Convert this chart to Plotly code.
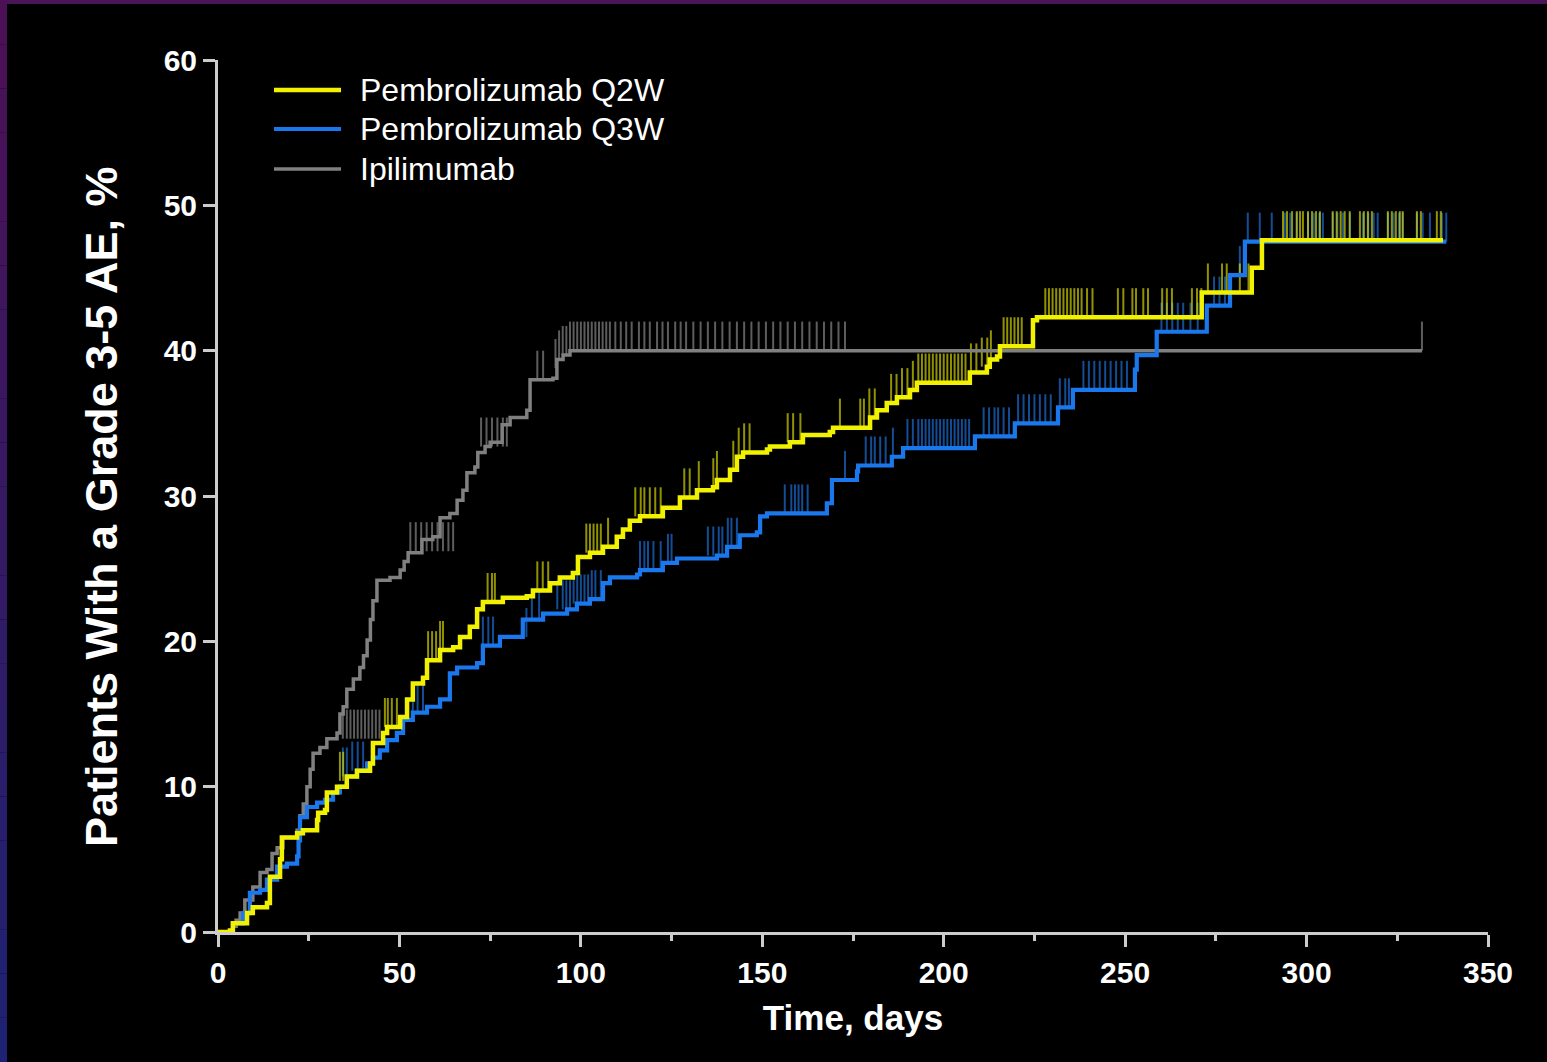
import plotly.graph_objects as go

# ---------------------------------------------------------------
# Cumulative incidence of grade 3-5 adverse events (step curves)
# ---------------------------------------------------------------
series_names = ["Pembrolizumab Q2W", "Pembrolizumab Q3W", "Ipilimumab"]

# Pembrolizumab Q2W: event days and cumulative percentage
q2w_days = [0, 3.3, 4.1, 8.0, 9.6, 13.5, 14.3, 17.1, 17.6, 21.8, 23.4, 27.3, 27.6, 29.5, 30.0,
            32.8, 35.5, 38.3, 41.9, 42.7, 45.5, 46.6, 50.2, 52.1, 53.7, 56.5, 57.6, 61.2, 64.8,
            66.7, 69.4, 71.4, 73.0, 78.5, 85.1, 86.8, 91.5, 94.2, 97.8, 99.2, 102.5, 106.1,
            109.9, 111.6, 113.5, 116.3, 122.6, 127.3, 132.0, 136.4, 137.5, 141.1, 143.0, 144.7,
            151.3, 152.1, 157.6, 161.2, 168.6, 169.5, 179.7, 181.6, 184.3, 187.1, 190.7, 192.6,
            207.2, 211.9, 212.7, 214.7, 215.5, 224.6, 225.7, 271.1, 284.9, 287.7, 337.6]
q2w_pct = [0, 0.1, 0.6, 1.3, 1.7, 2.0, 3.8, 5.0, 6.5, 6.8, 7.0, 7.7, 8.2, 8.4, 9.6,
           10.0, 10.7, 11.1, 11.6, 13.0, 13.7, 14.1, 14.8, 16.0, 17.1, 17.5, 18.7, 19.4, 19.6,
           20.3, 21.0, 22.2, 22.7, 23.0, 23.1, 23.5, 24.0, 24.4, 24.7, 25.8, 26.1, 26.5,
           27.2, 27.7, 28.3, 28.6, 29.2, 29.9, 30.4, 30.6, 31.1, 31.8, 32.7, 33.0,
           33.2, 33.4, 33.7, 34.2, 34.4, 34.7, 35.4, 35.9, 36.4, 36.8, 37.3, 37.8,
           38.5, 38.9, 39.4, 39.6, 40.3, 42.1, 42.3, 44.0, 45.7, 47.6, 47.6]

# Pembrolizumab Q3W
q3w_days = [0, 4.1, 6.9, 8.8, 11.6, 13.5, 16.3, 19.0, 21.8, 22.2, 22.6, 24.5, 27.3, 29.5, 31.7,
            33.6, 35.5, 38.3, 41.1, 42.7, 44.6, 46.6, 49.3, 51.0, 53.7, 57.6, 61.2, 63.9, 65.9,
            71.4, 73.0, 77.7, 84.0, 89.6, 96.2, 98.9, 102.5, 106.1, 108.0, 115.5, 116.3, 122.6,
            126.5, 137.5, 140.3, 143.8, 148.5, 149.4, 151.3, 167.8, 169.2, 176.1, 176.4, 185.7,
            188.8, 208.6, 219.6, 231.5, 235.6, 252.7, 253.2, 258.7, 272.5, 278.9, 283.0, 338.5]
q3w_pct = [0, 0.6, 1.3, 2.7, 2.9, 3.6, 4.5, 4.7, 5.2, 6.3, 7.9, 8.6, 8.9, 9.1, 9.6,
           10.0, 10.7, 11.1, 11.6, 12.0, 12.5, 13.2, 13.7, 14.6, 15.1, 15.5, 16.0, 17.8, 18.2,
           18.5, 19.7, 20.3, 21.5, 21.9, 22.2, 22.6, 22.9, 24.0, 24.4, 24.6, 24.9, 25.4,
           25.7, 25.9, 26.5, 27.3, 27.5, 28.6, 28.8, 29.5, 31.1, 31.7, 32.1, 32.7,
           33.3, 34.1, 35.0, 36.1, 37.3, 38.7, 39.7, 41.3, 43.1, 45.2, 47.5, 47.5]

# Ipilimumab
ipi_days = [0, 4.1, 5.0, 6.1, 7.4, 9.6, 11.6, 13.5, 14.9, 16.3, 17.9, 21.8, 22.6, 23.5, 24.5,
            25.4, 26.2, 28.1, 30.0, 32.8, 33.6, 34.5, 35.5, 37.3, 39.1, 40.1, 41.1, 42.0, 42.7,
            43.8, 47.4, 50.2, 51.3, 52.4, 56.2, 59.2, 61.2, 63.9, 65.9, 67.5, 68.6, 70.8, 71.6,
            73.6, 75.0, 78.3, 80.5, 85.1, 86.0, 92.3, 93.4, 95.1, 97.0, 331.8]
ipi_pct = [0, 0.4, 0.8, 1.3, 2.2, 3.1, 4.1, 4.3, 5.4, 5.8, 6.5, 7.0, 8.0, 8.8, 10.0,
           11.2, 12.3, 12.7, 13.3, 13.7, 15.0, 15.5, 16.7, 17.4, 18.2, 19.0, 20.1, 21.5, 22.8,
           24.2, 24.4, 24.9, 25.5, 26.1, 27.0, 27.2, 28.5, 28.8, 29.7, 30.4, 31.6, 32.0, 33.0,
           33.4, 33.7, 34.9, 35.4, 35.9, 38.0, 38.1, 39.4, 39.7, 40.0, 40.0]

# Censored observations (day, level of curve at censoring)
q2w_cens_days = [33.6, 34.5, 46.0, 46.8, 47.9, 49.3, 57.9, 59.0, 60.1, 61.2, 62.0, 74.3, 75.5, 76.3,
                 88.0, 89.5, 91.0, 101.5, 102.5, 103.5, 104.5, 105.5, 107.5, 115.0, 116.5, 117.5,
                 119.0, 120.5, 122.0, 128.5, 130.0, 132.5, 136.5, 137.5, 142.0, 143.5, 145.0, 146.5,
                 157.0, 158.5, 160.5, 171.4, 177.0, 178.0, 179.5, 181.0, 185.5, 187.0, 188.5, 190.0,
                 191.5, 193.0, 194.0, 195.0, 196.0, 197.0, 198.0, 199.0, 200.0, 201.0, 202.0, 203.0,
                 204.0, 205.0, 206.0, 207.5, 209.0, 210.5, 212.0, 213.0, 216.5, 217.5, 218.5, 219.5,
                 220.5, 221.5, 228.0, 229.0, 230.0, 231.0, 232.0, 233.0, 234.0, 235.0, 236.0, 237.0,
                 238.0, 239.5, 241.0, 248.0, 249.5, 252.0, 253.0, 255.0, 256.3, 260.2, 261.5, 262.9,
                 268.4, 269.8, 271.0, 272.8, 276.7, 278.0, 281.6, 284.0, 293.5, 294.6, 296.0, 297.3,
                 298.2, 299.0, 300.4, 301.5, 302.6, 303.7, 307.2, 308.3, 309.4, 310.5, 311.9, 314.7,
                 315.8, 316.9, 318.0, 322.4, 323.5, 324.6, 325.7, 326.5, 330.4, 331.5, 335.9, 337.0]
q2w_cens_pct = [10.4, 10.4, 14.1, 14.1, 14.1, 14.1, 18.7, 18.7, 18.7, 19.4, 19.4, 22.7, 22.7, 22.7,
                23.5, 23.5, 23.5, 26.1, 26.1, 26.1, 26.1, 26.1, 26.5, 28.6, 28.6, 28.6,
                28.6, 28.6, 28.6, 29.9, 29.9, 30.4, 30.6, 31.1, 31.8, 32.7, 33.0, 33.0,
                33.7, 33.7, 33.7, 34.7, 34.7, 34.7, 35.4, 35.4, 36.4, 36.4, 36.8, 36.8,
                37.3, 37.8, 37.8, 37.8, 37.8, 37.8, 37.8, 37.8, 37.8, 37.8, 37.8, 37.8,
                37.8, 37.8, 37.8, 38.5, 38.5, 38.9, 38.9, 39.4, 40.3, 40.3, 40.3, 40.3,
                40.3, 40.3, 42.3, 42.3, 42.3, 42.3, 42.3, 42.3, 42.3, 42.3, 42.3, 42.3,
                42.3, 42.3, 42.3, 42.3, 42.3, 42.3, 42.3, 42.3, 42.3, 42.3, 42.3, 42.3,
                42.3, 42.3, 42.3, 44.0, 44.0, 44.0, 44.0, 44.0, 47.6, 47.6, 47.6, 47.6,
                47.6, 47.6, 47.6, 47.6, 47.6, 47.6, 47.6, 47.6, 47.6, 47.6, 47.6, 47.6,
                47.6, 47.6, 47.6, 47.6, 47.6, 47.6, 47.6, 47.6, 47.6, 47.6, 47.6, 47.6]

q3w_cens_days = [34.4, 35.5, 37.0, 38.5, 40.0, 53.7, 55.0, 56.5, 73.0, 74.5, 75.8, 85.0, 86.5, 88.5,
                 93.5, 95.0, 96.0, 97.0, 98.0, 99.0, 100.0, 101.0, 102.0, 103.0, 104.0, 105.5,
                 116.3, 117.5, 118.5, 120.0, 122.0, 124.0, 125.0, 135.0, 136.5, 138.0, 139.0, 140.5,
                 141.5, 143.0, 156.2, 158.0, 159.0, 160.0, 161.0, 162.5, 172.8, 178.5, 180.0, 181.0,
                 182.5, 184.0, 186.0, 190.0, 191.5, 193.0, 194.0, 195.0, 196.0, 197.0, 198.0, 199.0,
                 200.0, 201.0, 202.0, 203.0, 204.0, 205.0, 206.0, 207.0, 211.0, 212.5, 214.0, 215.0,
                 216.5, 218.0, 220.5, 222.0, 223.5, 225.0, 226.5, 228.0, 229.5, 232.0, 233.5, 234.5,
                 238.5, 240.0, 241.5, 243.0, 244.5, 246.0, 247.5, 249.0, 250.5, 260.0, 261.5, 263.0,
                 264.5, 266.0, 268.0, 270.0, 274.5, 276.0, 277.5, 281.6, 283.8, 287.1, 290.4, 294.0,
                 295.5, 297.3, 300.4, 302.0, 303.5, 304.5, 307.2, 308.5, 310.0, 311.9, 315.5, 317.0,
                 318.5, 319.6, 322.4, 324.0, 325.5, 326.5, 330.4, 332.0, 334.0, 337.3, 338.5]
q3w_cens_pct = [10.7, 10.7, 11.1, 11.1, 11.1, 15.1, 15.1, 15.1, 19.7, 19.7, 19.7, 20.3, 21.5, 21.5,
                22.2, 22.2, 22.2, 22.2, 22.6, 22.6, 22.6, 22.6, 22.6, 22.9, 22.9, 22.9,
                24.9, 24.9, 24.9, 24.9, 24.9, 25.4, 25.4, 25.9, 25.9, 25.9, 25.9, 26.5,
                26.5, 26.5, 28.8, 28.8, 28.8, 28.8, 28.8, 28.8, 31.1, 32.1, 32.1, 32.1,
                32.1, 32.1, 32.7, 33.3, 33.3, 33.3, 33.3, 33.3, 33.3, 33.3, 33.3, 33.3,
                33.3, 33.3, 33.3, 33.3, 33.3, 33.3, 33.3, 33.3, 34.1, 34.1, 34.1, 34.1,
                34.1, 34.1, 35.0, 35.0, 35.0, 35.0, 35.0, 35.0, 35.0, 36.1, 36.1, 36.1,
                37.3, 37.3, 37.3, 37.3, 37.3, 37.3, 37.3, 37.3, 37.3, 41.3, 41.3, 41.3,
                41.3, 41.3, 41.3, 41.3, 43.1, 43.1, 43.1, 45.2, 47.5, 47.5, 47.5, 47.5,
                47.5, 47.5, 47.5, 47.5, 47.5, 47.5, 47.5, 47.5, 47.5, 47.5, 47.5, 47.5,
                47.5, 47.5, 47.5, 47.5, 47.5, 47.5, 47.5, 47.5, 47.5, 47.5, 47.5]

ipi_cens_days = [34.4, 35.5, 36.5, 37.5, 38.5, 39.5, 40.5, 41.5, 42.5, 43.5, 44.5,
                 53.0, 54.5, 56.0, 57.5, 59.0, 60.5, 62.0, 63.5, 64.8,
                 72.5, 74.0, 75.5, 77.0, 78.5, 79.6, 88.0, 89.6, 93.0, 94.0,
                 95.0, 96.0, 97.0, 98.0, 99.0, 100.0, 101.0, 102.0, 103.0, 104.0, 105.0, 106.0,
                 107.0, 108.0, 109.5, 111.0, 112.5, 114.0, 116.0, 117.5, 119.0, 121.0, 122.5, 124.0,
                 126.0, 127.5, 129.0, 131.0, 133.0, 135.0, 137.0, 139.0, 141.0, 143.0, 145.0, 147.0,
                 149.0, 151.0, 153.0, 155.0, 157.0, 159.0, 161.0, 163.0, 165.0, 167.0, 169.0, 171.0,
                 172.8, 331.8]
ipi_cens_pct = [13.3, 13.3, 13.3, 13.3, 13.3, 13.3, 13.3, 13.3, 13.3, 13.3, 13.3,
                26.2, 26.2, 26.2, 26.2, 26.2, 26.2, 26.2, 26.2, 26.2,
                33.4, 33.4, 33.4, 33.4, 33.4, 33.4, 38.0, 38.0, 38.8, 39.4,
                39.7, 39.7, 40.0, 40.0, 40.0, 40.0, 40.0, 40.0, 40.0, 40.0, 40.0, 40.0,
                40.0, 40.0, 40.0, 40.0, 40.0, 40.0, 40.0, 40.0, 40.0, 40.0, 40.0, 40.0,
                40.0, 40.0, 40.0, 40.0, 40.0, 40.0, 40.0, 40.0, 40.0, 40.0, 40.0, 40.0,
                40.0, 40.0, 40.0, 40.0, 40.0, 40.0, 40.0, 40.0, 40.0, 40.0, 40.0, 40.0,
                40.0, 40.0]

# Styling
LINE_COLORS = {"q2w": "#f2f200", "q3w": "#1a78ec", "ipi": "#808080"}
TICK_COLORS = {"q2w": "rgba(235,235,0,0.62)", "q3w": "rgba(30,125,240,0.62)",
               "ipi": "rgba(150,150,150,0.62)"}
LINE_WIDTHS = {"q2w": 4.5, "q3w": 4.2, "ipi": 3.5}
CENSOR_HEIGHT = 2.0   # height of a censor mark, in % units
AXIS_COLOR = "#cccccc"
FONT = "Arial, 'Liberation Sans', Helvetica, sans-serif"


def censor_segments(days, pct):
    xs, ys = [], []
    for d, p in zip(days, pct):
        xs += [d, d, None]
        ys += [p, p + CENSOR_HEIGHT, None]
    return xs, ys


fig = go.Figure()

curves = [
    ("ipi", series_names[2], ipi_days, ipi_pct, ipi_cens_days, ipi_cens_pct),
    ("q3w", series_names[1], q3w_days, q3w_pct, q3w_cens_days, q3w_cens_pct),
    ("q2w", series_names[0], q2w_days, q2w_pct, q2w_cens_days, q2w_cens_pct),
]

for key, name, days, pct, cdays, cpct in curves:
    cx, cy = censor_segments(cdays, cpct)
    fig.add_trace(go.Scatter(x=cx, y=cy, mode="lines", showlegend=False, hoverinfo="skip",
                             line=dict(color=TICK_COLORS[key], width=2)))
for key, name, days, pct, cdays, cpct in curves:
    fig.add_trace(go.Scatter(x=days, y=pct, mode="lines", name=name, showlegend=False,
                             line=dict(color=LINE_COLORS[key], width=LINE_WIDTHS[key], shape="hv")))

# Plot-area geometry (pixels) used to place the legend and frame decoration
W, H = 1547, 1062
L, R, T, B = 218, 59, 60, 130
PW, PH = W - L - R, H - T - B


def px_to_paper_x(px):
    return (px - L) / PW


def py_to_paper_y(py):
    return (H - B - py) / PH


shapes = []
annotations = []

# key in the upper-left corner: line sample + label for each treatment arm
legend_rows = [("q2w", series_names[0], 90), ("q3w", series_names[1], 129), ("ipi", series_names[2], 169)]
for key, name, py in legend_rows:
    shapes.append(dict(type="line", xref="paper", yref="paper",
                       x0=px_to_paper_x(274), x1=px_to_paper_x(341),
                       y0=py_to_paper_y(py), y1=py_to_paper_y(py),
                       line=dict(color=LINE_COLORS[key], width=LINE_WIDTHS[key])))
    annotations.append(dict(text=name, xref="paper", yref="paper",
                            x=px_to_paper_x(358), y=py_to_paper_y(py),
                            xanchor="left", yanchor="middle", showarrow=False,
                            font=dict(family=FONT, size=32, color="white")))

# y-axis title
annotations.append(dict(text="Patients With a Grade 3-5 AE, %", xref="paper", yref="paper",
                        x=px_to_paper_x(101), y=py_to_paper_y(507), textangle=-90,
                        xanchor="center", yanchor="middle", showarrow=False,
                        font=dict(family=FONT, size=45, color="white", weight="bold")))

# top purple edge
shapes.append(dict(type="rect", xref="paper", yref="paper",
                   x0=px_to_paper_x(0), x1=px_to_paper_x(W),
                   y0=py_to_paper_y(4), y1=py_to_paper_y(0),
                   fillcolor="#4a1458", line=dict(width=0), layer="above"))
# left edge, purple fading into deep blue
n_seg = 24
top_rgb, bot_rgb = (76, 16, 86), (30, 34, 114)
for i in range(n_seg):
    t = i / (n_seg - 1)
    c = tuple(round(a + (b - a) * t) for a, b in zip(top_rgb, bot_rgb))
    shapes.append(dict(type="rect", xref="paper", yref="paper",
                       x0=px_to_paper_x(0), x1=px_to_paper_x(7),
                       y0=py_to_paper_y(H * (i + 1) / n_seg), y1=py_to_paper_y(H * i / n_seg),
                       fillcolor="rgb(%d,%d,%d)" % c, line=dict(width=0), layer="above"))

axis_common = dict(showline=True, linecolor=AXIS_COLOR, linewidth=3, mirror=False,
                   ticks="outside", ticklen=12, tickwidth=3, tickcolor=AXIS_COLOR,
                   showgrid=False, zeroline=False,
                   tickfont=dict(family=FONT, size=30, color="white", weight="bold"))

fig.update_layout(
    width=W, height=H, autosize=False,
    margin=dict(l=L, r=R, t=T, b=B),
    paper_bgcolor="black", plot_bgcolor="black",
    font=dict(family=FONT, color="white"),
    xaxis=dict(range=[0, 350], dtick=50, tick0=0,
               minor=dict(dtick=25, ticks="outside", ticklen=6, tickwidth=3, tickcolor=AXIS_COLOR),
               title=dict(text="Time, days", standoff=18,
                          font=dict(family=FONT, size=35, color="white", weight="bold")),
               ticklabelstandoff=0,
               **axis_common),
    yaxis=dict(range=[0, 60], dtick=10, tick0=0, ticklabelstandoff=0, **axis_common),
    showlegend=False,
    shapes=shapes,
    annotations=annotations,
)

fig.write_html("out.html")
